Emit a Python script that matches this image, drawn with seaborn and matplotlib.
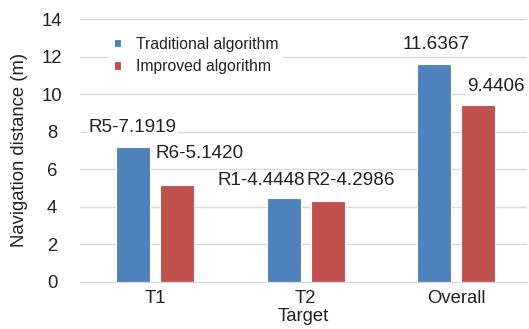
import matplotlib
matplotlib.use("Agg")
import matplotlib.pyplot as plt
import seaborn as sns
import pandas as pd

targets = ["T1", "T2", "Overall"]
traditional = [7.1919, 4.4448, 11.6367]
improved = [5.1420, 4.2986, 9.4406]
labels_traditional = ["R5-7.1919", "R1-4.4448", "11.6367"]
labels_improved = ["R6-5.1420", "R2-4.2986", "9.4406"]
series_names = ["Traditional algorithm", "Improved algorithm"]
colors = ["#4F81BD", "#C0504D"]
yticks = [0, 2, 4, 6, 8, 10, 12, 14]

df = pd.DataFrame({
    "Target": targets * 2,
    "value": traditional + improved,
    "series": [series_names[0]] * 3 + [series_names[1]] * 3,
})

sns.set_style("white")
plt.rcParams["font.family"] = ["Liberation Sans", "DejaVu Sans"]

fig = plt.figure(figsize=(5.29, 3.29), dpi=100)
ax = fig.add_axes([80 / 529, 47.5 / 329, 447 / 529, 262.2 / 329])

sns.barplot(data=df, x="Target", y="value", hue="series", order=targets,
            hue_order=series_names, palette=colors, width=0.58, gap=0.22,
            ax=ax, linewidth=0.8, edgecolor="white", saturation=1)

ax.set_ylim(0, 14)
ax.set_xlim(-0.5, 2.47)
ax.set_yticks(yticks)
ax.grid(axis="y", color="#d9d9d9", linewidth=1)
ax.set_axisbelow(True)
for s in ["top", "right", "left"]:
    ax.spines[s].set_visible(False)
ax.spines["bottom"].set_color("#d9d9d9")
ax.tick_params(axis="x", length=0, labelsize=13.3, colors="#222222", pad=6)
ax.tick_params(axis="y", length=0, labelsize=13.3, colors="#222222", pad=20)
for t in ax.get_yticklabels():
    t.set_horizontalalignment("center")
ax.set_xlabel("Target", fontsize=13.3, color="#222222", labelpad=1)
ax.set_ylabel("Navigation distance (m)", fontsize=13.3, color="#222222", labelpad=10)

# annotation offsets in pixels from each bar top-center
offs_trad = [(-1, 19), (-22.5, 18), (2, 19)]
offs_imp = [(22.5, 32), (23.5, 20), (18, 18)]
bars_trad = ax.containers[0]
bars_imp = ax.containers[1]
for bars, labs, offs in [(bars_trad, labels_traditional, offs_trad),
                         (bars_imp, labels_improved, offs_imp)]:
    for p, lab, (dx, dy) in zip(bars, labs, offs):
        ax.annotate(lab, (p.get_x() + p.get_width() / 2, p.get_height()),
                    xytext=(dx * 0.72, dy * 0.72), textcoords="offset points",
                    ha="center", va="center", fontsize=13.6, color="#222222",
                    bbox=dict(facecolor="white", edgecolor="none", pad=1))

leg = ax.legend(loc="upper left", bbox_to_anchor=(101 / 529, 305 / 329),
                bbox_transform=fig.transFigure, frameon=True, fontsize=11.3,
                handlelength=0.5, handleheight=0.5, handletextpad=0.9,
                labelspacing=0.45, borderpad=0.3, title=None)
leg.get_frame().set_facecolor("white")
leg.get_frame().set_edgecolor("none")
leg.get_frame().set_alpha(1)
for t in leg.get_texts():
    t.set_color("#222222")

fig.savefig("out.png", dpi=100)
